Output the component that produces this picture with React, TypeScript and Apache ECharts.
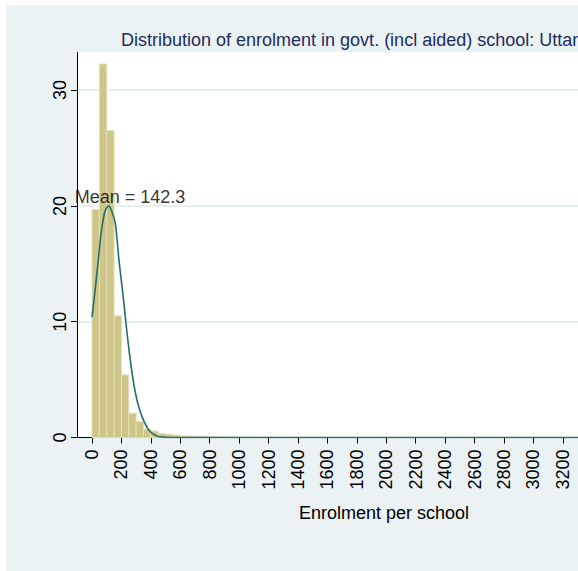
import React, { useEffect, useRef } from "react";
import * as echarts from "echarts";

const titleText = "Distribution of enrolment in govt. (incl aided) school: Uttar";
const xAxisTitle = "Enrolment per school";
const meanLabel = "Mean = 142.3";
const meanLabelAt = [-118, 20];

const binWidth = 50;
const binStarts = [0, 50, 100, 150, 200, 250, 300, 350, 400, 450, 500, 550, 600, 650, 700, 750, 800, 850, 900, 950, 1000, 1050, 1100, 1200, 1350, 1500];
const binPercents = [19.7, 32.25, 26.5, 10.5, 5.4, 2.1, 1.37, 0.73, 0.56, 0.36, 0.28, 0.21, 0.13, 0.12, 0.1, 0.09, 0.07, 0.04, 0.03, 0.03, 0.02, 0.02, 0.01, 0.01, 0.01, 0.01];

const curveX = [0, 20, 45, 56, 72, 90, 113, 135, 158, 171, 181, 195, 210, 233, 260, 283, 310, 340, 385, 441, 500, 600, 1000, 2000, 3303];
const curveY = [10.4, 12.6, 15.6, 17.0, 18.5, 19.6, 20.0, 19.5, 18.5, 17.0, 15.6, 14.0, 12.4, 9.6, 6.7, 4.7, 3.0, 1.8, 0.65, 0.13, 0.02, 0, 0, 0, 0];

const xTicks = [0, 200, 400, 600, 800, 1000, 1200, 1400, 1600, 1800, 2000, 2200, 2400, 2600, 2800, 3000, 3200];
const yTicks = [0, 10, 20, 30];
const xMin = -102;
const xMax = 3303;
const yMin = 0;
const yMax = 33.26;

const FONT = "'Liberation Sans', Arial, sans-serif";

export default function App() {
  const ref = useRef<HTMLDivElement>(null);
  useEffect(() => {
    if (!ref.current) return;
    const chart = echarts.init(ref.current, undefined, { renderer: "svg" });
    const bins = binStarts.map((s, i) => [s, s + binWidth, binPercents[i]]);
    const curve = curveX.map((x, i) => [x, curveY[i]]);
    chart.setOption({
      animation: false,
      backgroundColor: "#EAF2F3",
      textStyle: { fontFamily: FONT },
      grid: {
        left: 71,
        top: 47.3,
        right: 0,
        bottom: 133.5,
        show: true,
        backgroundColor: "#ffffff",
        borderWidth: 0,
      },
      xAxis: {
        type: "value",
        min: xMin,
        max: xMax,
        axisLine: { show: true, onZero: false, lineStyle: { color: "#000", width: 1 } },
        axisTick: { show: true, length: 6, customValues: xTicks, lineStyle: { color: "#000", width: 1 } },
        axisLabel: {
          show: true,
          customValues: xTicks,
          formatter: (v: number) => String(v),
          rotate: 90,
          margin: 12,
          fontSize: 18,
          color: "#000",
          fontFamily: FONT,
          hideOverlap: false,
        },
        splitLine: { show: false },
      },
      yAxis: {
        type: "value",
        min: yMin,
        max: yMax,
        axisLine: { show: true, onZero: false, lineStyle: { color: "#000", width: 1 } },
        axisTick: { show: true, length: 6, customValues: yTicks, lineStyle: { color: "#000", width: 1 } },
        axisLabel: {
          show: true,
          customValues: yTicks,
          formatter: (v: number) => String(v),
          rotate: 90,
          margin: 8,
          fontSize: 18,
          color: "#000",
          fontFamily: FONT,
        },
        splitLine: { show: true, lineStyle: { color: "#DFEBED", width: 1.5 } },
      },
      graphic: [
        {
          type: "text",
          left: 115,
          top: 26,
          style: {
            text: titleText,
            fill: "#1E2D5E",
            font: `18px ${FONT}`,
          },
        },
        {
          type: "text",
          x: 378,
          y: 508,
          style: {
            text: xAxisTitle,
            fill: "#000",
            font: `18px ${FONT}`,
            textAlign: "center",
            textVerticalAlign: "middle",
          },
        },
      ],
      series: [
        {
          type: "custom",
          z: 2,
          data: bins,
          encode: { x: [0, 1], y: 2 },
          renderItem: (params: any, api: any) => {
            const x0 = api.value(0);
            const x1 = api.value(1);
            const y = api.value(2);
            const p0 = api.coord([x0, y]);
            const p1 = api.coord([x1, 0]);
            return {
              type: "rect",
              shape: { x: p0[0], y: p0[1], width: p1[0] - p0[0], height: p1[1] - p0[1] },
              style: { fill: "#CEC689", stroke: "#E4DFB6", lineWidth: 1 },
            };
          },
        },
        {
          type: "line",
          z: 3,
          data: curve,
          showSymbol: false,
          smooth: 0.3,
          lineStyle: { color: "#236E69", width: 1.6 },
        },
        {
          type: "scatter",
          z: 4,
          clip: false,
          symbolSize: 0,
          data: [meanLabelAt],
          label: {
            show: true,
            formatter: meanLabel,
            position: [0, 0],
            align: "left",
            verticalAlign: "bottom",
            fontSize: 18,
            color: "#000",
            fontFamily: FONT,
          },
        },
      ],
    });
    return () => chart.dispose();
  }, []);
  return (
    <div
      ref={ref}
      style={{ position: "absolute", left: 6, top: 5, width: 572, height: 566 }}
    />
  );
}
